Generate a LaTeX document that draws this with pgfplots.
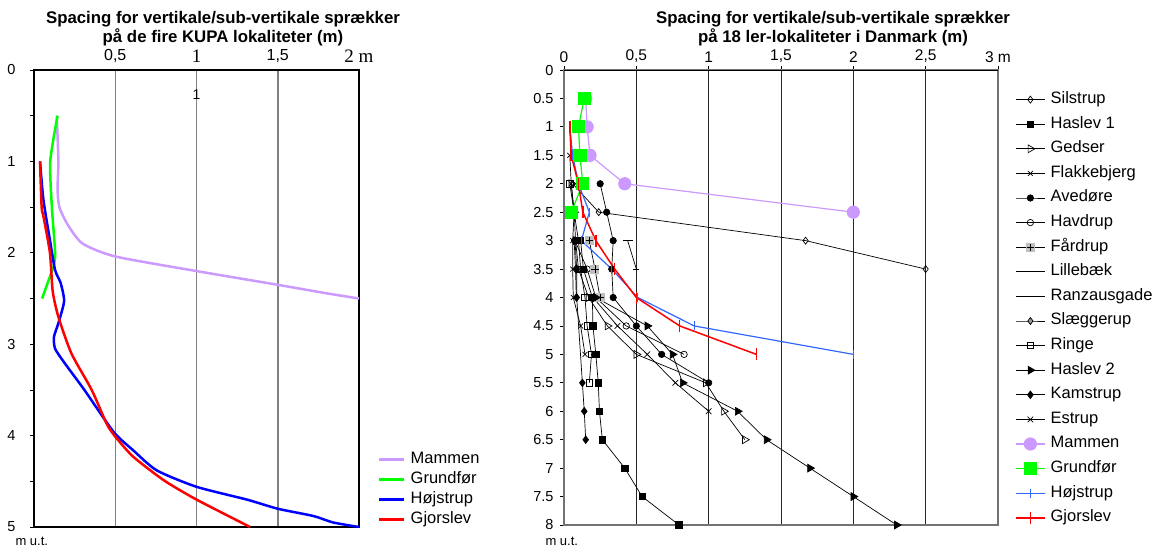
\documentclass[border=0pt]{standalone}
\usepackage{fontspec}
\setmainfont{Liberation Sans}
\newfontfamily\serif{Liberation Serif}
\usepackage{pgfplots}
\pgfplotsset{compat=1.18}
\definecolor{lav}{HTML}{CC99FF}
\definecolor{grn}{HTML}{00FF00}
\definecolor{blu}{HTML}{0000FF}
\definecolor{lblu}{HTML}{3366FF}
\definecolor{rd}{HTML}{FF0000}
\definecolor{gridgray}{HTML}{808080}

% grey square with a plus on top (Fårdrup)
\pgfdeclareplotmark{sqplus}{%
  \pgfsetfillcolor{black!25}%
  \pgfpathrectangle{\pgfpoint{-\pgfplotmarksize}{-\pgfplotmarksize}}{\pgfpoint{2\pgfplotmarksize}{2\pgfplotmarksize}}%
  \pgfusepathqfill
  \pgfpathmoveto{\pgfpoint{-0.8\pgfplotmarksize}{0pt}}\pgfpathlineto{\pgfpoint{0.8\pgfplotmarksize}{0pt}}%
  \pgfpathmoveto{\pgfpoint{0pt}{-0.8\pgfplotmarksize}}\pgfpathlineto{\pgfpoint{0pt}{0.8\pgfplotmarksize}}%
  \pgfusepathqstroke}

\begin{document}
\begin{tikzpicture}
\path[use as bounding box] (0,0) rectangle (1165pt,549pt);

% titles
\node[align=center, font=\bfseries\fontsize{16.8}{19}\selectfont] at (223pt,520.5pt)
  {Spacing for vertikale/sub-vertikale sprækker\\på de fire KUPA lokaliteter (m)};
\node[align=center, font=\bfseries\fontsize{16.8}{19}\selectfont] at (833pt,520.5pt)
  {Spacing for vertikale/sub-vertikale sprækker\\på 18 ler-lokaliteter i Danmark (m)};
\node[anchor=west, font=\fontsize{13}{13}\selectfont] at (12pt,8pt) {m u.t.};
\node[anchor=west, font=\fontsize{13}{13}\selectfont] at (542pt,8pt) {m u.t.};

% ---------- left: KUPA ----------
\begin{axis}[
  at={(34pt,22pt)}, anchor=south west, scale only axis,
  width=325pt, height=457pt,
  xmin=0, xmax=2, ymin=0, ymax=5, y dir=reverse,
  axis line style={black, line width=1.5pt},
  xtick={0.5,1,1.5},
  xticklabels={{0,5},{\serif\fontsize{19}{19}\selectfont 1},{1,5}},
  extra x ticks={2}, extra x tick labels={{\serif\fontsize{19}{19}\selectfont 2 m}},
  extra x tick style={grid=none},
  xtick pos=right, xticklabel pos=right,
  xmajorgrids, major x grid style={gridgray, line width=1.5pt},
  ytick={0,1,2,3,4,5}, yticklabels={0,1,2,3,4,{5\hspace{-11pt}}},
  minor ytick={0.5,1.5,2.5,3.5,4.5},
  ytick pos=left, tick align=outside,
  major tick length=4pt, minor tick length=4pt,
  x tick style={draw=none},
  y tick style={black, line width=0.8pt},
  yticklabel style={xshift=-11pt, font=\fontsize{14.5}{14.5}\selectfont},
  xticklabel style={font=\fontsize{16}{16}\selectfont},
  legend style={at={(1.0585,0.166)}, anchor=north west, draw=none, fill=none,
    inner sep=0pt, font=\fontsize{16.5}{16.5}\selectfont, row sep=4pt, column sep=5pt,
    nodes={inner sep=0pt, text height=12pt, text depth=4pt}},
  legend cell align=left,
  legend image code/.code={\draw[#1] (0pt,0pt) -- (25pt,0pt);},
  every axis plot/.append style={line width=2.5pt, no markers, smooth, tension=0.4},
]
\addplot[lav] coordinates {(0.14,0.5) (0.15,1.0) (0.145,1.3) (0.156,1.5) (0.21,1.7) (0.30,1.9) (0.5,2.04) (1.0,2.2) (1.5,2.35) (1.79,2.44) (2.0,2.5)};
\addlegendentry{Mammen}
\addplot[grn] coordinates {(0.145,0.5) (0.10,1.0) (0.11,1.5) (0.13,2.0) (0.12,2.15) (0.10,2.25) (0.05,2.5)};
\addlegendentry{Grundfør}
\addplot[blu] coordinates {(0.037,1.0) (0.058,1.42) (0.098,1.86) (0.13,2.19) (0.164,2.33) (0.185,2.53) (0.15,2.77) (0.123,2.92) (0.13,3.05) (0.19,3.21) (0.31,3.5) (0.49,3.96) (0.61,4.16) (0.755,4.38) (1.0,4.56) (1.31,4.70) (1.50,4.80) (1.72,4.88) (1.84,4.95) (2.0,5.0)};
\addlegendentry{Højstrup}
\addplot[rd] coordinates {(0.037,1.0) (0.047,1.5) (0.058,1.6) (0.098,2.0) (0.115,2.42) (0.15,2.7) (0.23,3.1) (0.355,3.5) (0.447,3.87) (0.5,4.01) (0.61,4.23) (0.80,4.49) (1.0,4.70) (1.33,5.0)};
\addlegendentry{Gjorslev}
\node[font=\fontsize{14}{14}\selectfont] at (axis cs:1,0.27) {1};
\end{axis}

% ---------- right: 18 ler-lokaliteter ----------
\begin{axis}[
  at={(564pt,24pt)}, anchor=south west, scale only axis,
  width=434pt, height=455pt,
  xmin=0, xmax=3, ymin=0, ymax=8, y dir=reverse,
  axis line style={black!55, line width=1.5pt},
  xtick={0,0.5,1,1.5,2,2.5,3},
  xticklabels={0,{0,5},1,{1,5},2,{2,5},3 m},
  xtick pos=right, xticklabel pos=right,
  xmajorgrids, major x grid style={black!85, line width=0.9pt},
  ytick={0,0.5,...,8},
  yticklabels={0,0.5,1,1.5,2,2.5,3,3.5,4,4.5,5,5.5,6,6.5,7,7.5,{8\hspace{-9pt}}},
  ytick pos=left, tick align=outside, major tick length=4pt,
  tick style={black, line width=0.8pt},
  yticklabel style={xshift=-3pt, font=\fontsize{14.5}{14.5}\selectfont},
  xticklabel style={font=\fontsize{15.5}{15.5}\selectfont},
  legend style={at={(1.039,0.953)}, anchor=north west, draw=none, fill=none,
    inner sep=0pt, font=\fontsize{16.5}{16.5}\selectfont, row sep=8.6pt, column sep=5pt,
    nodes={inner sep=0pt, text height=12pt, text depth=4pt}},
  legend cell align=left,
  legend image code/.code={\draw[mark repeat=2, mark phase=2, #1] plot coordinates {(0pt,0pt) (14.5pt,0pt) (29pt,0pt)};},
  every axis plot/.append style={line width=0.7pt, mark options={solid}},
]
\draw[black, line width=1.3pt] (axis cs:0,0) -- (axis cs:3,0);
\addplot[black, mark=diamond, mark size=3.5pt, mark options={fill=white}] coordinates {(0.06,2) (0.24,2.5) (1.67,3) (2.5,3.5)};
\addlegendentry{Silstrup}
\addplot[black, mark=square*, mark size=3.2pt] coordinates {(0.115,3) (0.134,3.5) (0.196,4) (0.2,4.5) (0.22,5) (0.237,5.5) (0.245,6) (0.265,6.5) (0.42,7) (0.54,7.5) (0.795,8)};
\addlegendentry{Haslev 1}
\addplot[black, mark=triangle, mark size=4.5pt, mark options={rotate=-90, fill=white}] coordinates {(0.05,2) (0.07,2.5) (0.08,3) (0.1,3.5) (0.17,4) (0.30,4.5) (0.5,5) (0.98,5.5) (1.105,6) (1.25,6.5)};
\addlegendentry{Gedser}
\addplot[black, mark=x, mark size=3.5pt] coordinates {(0.04,1.5) (0.05,2) (0.07,2.5) (0.06,3) (0.06,3.5) (0.064,4) (0.115,4.5) (0.145,5)};
\addlegendentry{Flakkebjerg}
\addplot[black, mark=*, mark size=3.2pt] coordinates {(0.25,2) (0.295,2.5) (0.34,3) (0.33,3.5) (0.34,4) (0.5,4.5) (0.675,5) (1.0,5.5)};
\addlegendentry{Avedøre}
\addplot[black, mark=o, mark size=3.2pt, mark options={fill=white}] coordinates {(0.076,3) (0.16,3.5) (0.22,4) (0.43,4.5) (0.83,5)};
\addlegendentry{Havdrup}
\addplot[black, mark=sqplus, mark size=4.5pt] coordinates {(0.175,3) (0.214,3.5) (0.249,4)};
\addlegendentry{Fårdrup}
\addplot[black, mark=-, mark size=3pt] coordinates {(0.44,3) (0.5,3.5)};
\addlegendentry{Lillebæk}
\addplot[black, mark=-, mark size=5pt] coordinates {(0.44,3)};
\addlegendentry{Ranzausgade}
\addplot[black, mark=diamond*, mark size=3.5pt, mark options={fill=black!40}] coordinates {(0.07,3) (0.08,3.5) (0.085,4)};
\addlegendentry{Slæggerup}
\addplot[black, mark=square, mark size=3.2pt, mark options={fill=white}] coordinates {(0.04,2) (0.10,3) (0.115,3.5) (0.145,4) (0.16,4.5) (0.19,5) (0.175,5.5)};
\addlegendentry{Ringe}
\addplot[black, mark=triangle*, mark size=4.5pt, mark options={rotate=-90}] coordinates {(0.22,4) (0.576,4.5) (0.75,5) (0.82,5.5) (1.2,6) (1.4,6.5) (1.7,7) (2.0,7.5) (2.3,8)};
\addlegendentry{Haslev 2}
\addplot[black, mark=diamond*, mark size=3.8pt] coordinates {(0.076,3) (0.088,3.5) (0.088,4) (0.127,5.5) (0.14,6) (0.15,6.5)};
\addlegendentry{Kamstrup}
\addplot[black, mark=x, mark size=4pt] coordinates {(0.2,4) (0.37,4.5) (0.576,5) (0.77,5.5) (1.0,6)};
\addlegendentry{Estrup}
\addplot[lav, line width=1.2pt, mark=*, mark size=6pt] coordinates {(0.15,0.5) (0.16,1) (0.18,1.5) (0.42,2) (2.0,2.5)};
\addlegendentry{Mammen}
\addplot[grn, line width=1.2pt, mark=square*, mark size=6pt] coordinates {(0.14,0.5) (0.1,1) (0.11,1.5) (0.13,2) (0.05,2.5)};
\addlegendentry{Grundfør}
\addplot[lblu, line width=1.2pt, mark=|, mark size=4.5pt] coordinates {(0.04,1) (0.06,1.5) (0.1,2) (0.175,2.5) (0.12,3) (0.33,3.5) (0.51,4) (0.9,4.5) (2.0,5)};
\addlegendentry{Højstrup}
\addplot[rd, line width=1.5pt, mark=|, mark size=6pt] coordinates {(0.04,1) (0.05,1.5) (0.1,2) (0.13,2.5) (0.22,3) (0.35,3.5) (0.5,4) (0.8,4.5) (1.33,5)};
\addlegendentry{Gjorslev}
\end{axis}
\end{tikzpicture}
\end{document}
